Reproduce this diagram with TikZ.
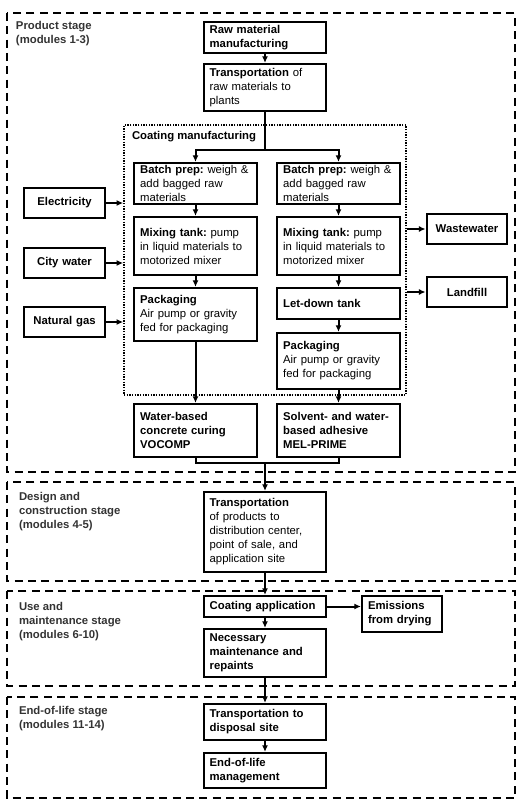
\documentclass[tikz,border=0pt]{standalone}
\usepackage{fontspec}
\setmainfont{Liberation Sans}
\usetikzlibrary{arrows.meta,positioning}
\definecolor{stagegray}{rgb}{0.2,0.2,0.2}
\frenchspacing

\begin{document}
\begin{tikzpicture}[x=0.75pt,y=-0.75pt,line width=1.5pt,>={Latex[length=5pt,width=4.5pt]},
    blk/.style={draw,line width=1.6pt,inner xsep=4.5pt,inner ysep=1pt,align=left,text width=83pt,font=\fontsize{8.5}{10.5}\selectfont},
    side/.style={blk,align=center,text width=51.5pt,minimum height=22.5pt,font=\fontsize{8.5}{10.5}\selectfont\bfseries},
    stage/.style={dash pattern=on 6pt off 4pt,line width=1.5pt},
    stagelbl/.style={anchor=north west,inner sep=0pt,align=left,text=stagegray,font=\fontsize{8.5}{10.5}\selectfont\bfseries}]
    \useasboundingbox (0,0) rectangle (527,806);

    % stage frames
    \draw [stage] (7,13) rectangle (515,472);
    \draw [stage] (7,482) rectangle (515,581);
    \draw [stage] (7,591) rectangle (515,686);
    \draw [stage] (7,697) rectangle (515,798);

    \node (prodlbl) at (15,20) [stagelbl] {Product stage\\(modules 1-3)};
    \node (deslbl) at (18,491) [stagelbl] {Design and\\construction stage\\(modules 4-5)};
    \node (uselbl) at (18,601) [stagelbl] {Use and\\maintenance stage\\(modules 6-10)};
    \node (eollbl) at (18,705) [stagelbl] {End-of-life stage\\(modules 11-14)};

    % product stage
    \node (raw) at (265,37.5) [blk,minimum height=23.25pt] {\textbf{Raw material}\\\textbf{manufacturing}};
    \node (trans) at (265,87.5) [blk,minimum height=35.25pt] {\textbf{Transportation} of\\raw materials to\\plants};
    \node (coat) at (265,260) [draw,line width=1.2pt,dash pattern=on 1pt off 1pt,minimum width=211.5pt,minimum height=202.5pt,inner sep=0pt] {};
    \node (coatlbl) at (131,137) [anchor=west,inner sep=0pt,font=\fontsize{8.5}{10.5}\selectfont\bfseries] {Coating manufacturing};

    \node (batchL) at (195.5,183.5) [blk,minimum height=30.75pt] {\textbf{Batch prep:} weigh \&\\add bagged raw\\materials};
    \node (mixL) at (195.5,246) [blk,minimum height=43.5pt] {\textbf{Mixing tank:} pump\\in liquid materials to\\motorized mixer};
    \node (packL) at (195.5,314.5) [blk,minimum height=39.75pt] {\textbf{Packaging}\\Air pump or gravity\\fed for packaging};
    \node (batchR) at (338.5,183.5) [blk,minimum height=30.75pt] {\textbf{Batch prep:} weigh \&\\add bagged raw\\materials};
    \node (mixR) at (338.5,246) [blk,minimum height=43.5pt] {\textbf{Mixing tank:} pump\\in liquid materials to\\motorized mixer};
    \node (letdown) at (338.5,303.5) [blk,minimum height=23.25pt] {\textbf{Let-down tank}};
    \node (packR) at (338.5,361) [blk,minimum height=42pt] {\textbf{Packaging}\\Air pump or gravity\\fed for packaging};

    \node (elec) at (64.5,203) [side] {Electricity};
    \node (water) at (64.5,263) [side] {City water};
    \node (gas) at (64.5,322) [side] {Natural gas};
    \node (waste) at (467,229) [side] {Wastewater};
    \node (landfill) at (467,292) [side] {Landfill};

    \node (vocomp) at (195.5,430.5) [blk,minimum height=39.75pt,font=\fontsize{8.5}{10.5}\selectfont\bfseries] {Water-based\\concrete curing\\VOCOMP};
    \node (melprime) at (338.5,430.5) [blk,minimum height=39.75pt,font=\fontsize{8.5}{10.5}\selectfont\bfseries] {Solvent- and water-\\based adhesive\\MEL-PRIME};

    % later stages
    \node (dist) at (265,532) [blk,minimum height=60pt] {\textbf{Transportation}\\of products to\\distribution center,\\point of sale, and\\application site};
    \node (apply) at (265,606.5) [blk,minimum height=15.75pt] {\textbf{Coating application}};
    \node (emis) at (402,614) [blk,text width=51pt,minimum height=27pt] {\textbf{Emissions}\\\textbf{from drying}};
    \node (maint) at (265,653) [blk,minimum height=36pt] {\textbf{Necessary}\\\textbf{maintenance and}\\\textbf{repaints}};
    \node (disp) at (265,722) [blk,minimum height=27pt] {\textbf{Transportation to}\\\textbf{disposal site}};
    \node (eol) at (265,770.5) [blk,minimum height=26.25pt] {\textbf{End-of-life}\\\textbf{management}};

    \coordinate (split) at (265,150);
    \coordinate (merge) at (265,463);

    \draw [->] (raw) -- (trans);
    \draw (trans) -- (split);
    \draw [->] (split) -| (batchL);
    \draw [->] (split) -| (batchR);
    \draw [->] (batchL) -- (mixL);
    \draw [->] (mixL) -- (packL);
    \draw [->] (batchR) -- (mixR);
    \draw [->] (mixR) -- (letdown);
    \draw [->] (letdown) -- (packR);
    \draw [->] (packL) -- (vocomp);
    \draw [->] (packR) -- (melprime);

    \draw [->] (elec) -- (elec -| coat.west);
    \draw [->] (water) -- (water -| coat.west);
    \draw [->] (gas) -- (gas -| coat.west);
    \draw [->] (coat.east |- waste) -- (waste);
    \draw [->] (coat.east |- landfill) -- (landfill);

    \draw (vocomp) |- (merge);
    \draw (melprime) |- (merge);
    \draw [->] (merge) -- (dist);
    \draw [->] (dist) -- (apply);
    \draw [->] (apply) -- (maint);
    \draw [->] (apply.east) -- (apply.east -| emis.west);
    \draw [->] (maint) -- (disp);
    \draw [->] (disp) -- (eol);
\end{tikzpicture}
\end{document}
